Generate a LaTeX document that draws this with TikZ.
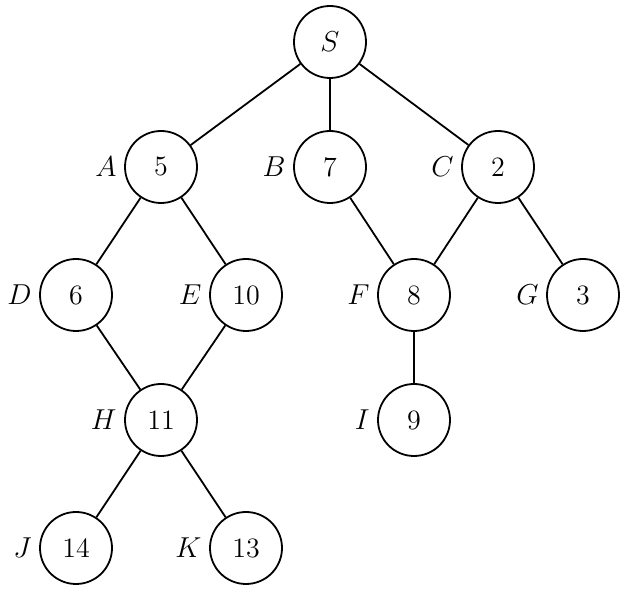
\documentclass[tikz,border=0pt]{standalone}
\begin{document}
\begin{tikzpicture}[x=0.5pt,y=-0.5pt,
  nd/.style={circle,draw,line width=0.9pt,minimum size=36pt,inner sep=0pt,font=\fontsize{14}{16}\selectfont},
  lb/.style={font=\fontsize{14}{16}\selectfont\itshape},
  every path/.style={line width=0.9pt}]
\useasboundingbox (0,0) rectangle (627,608);
\node[nd] (S) at (330,42) {$S$};
\node[nd,label={[lb]left:$A$}] (A) at (161,167) {5};
\node[nd,label={[lb]left:$B$}] (B) at (330,167) {7};
\node[nd,label={[lb]left:$C$}] (C) at (498,167) {2};
\node[nd,label={[lb]left:$D$}] (D) at (76,295) {6};
\node[nd,label={[lb]left:$E$}] (E) at (246,295) {10};
\node[nd,label={[lb]left:$F$}] (F) at (414,295) {8};
\node[nd,label={[lb]left:$G$}] (G) at (583,295) {3};
\node[nd,label={[lb]left:$H$}] (H) at (161,420) {11};
\node[nd,label={[lb]left:$I$}] (I) at (414,420) {9};
\node[nd,label={[lb]left:$J$}] (J) at (76,548) {14};
\node[nd,label={[lb]left:$K$}] (K) at (246,548) {13};
\draw (S)--(A); \draw (S)--(B); \draw (S)--(C);
\draw (A)--(D); \draw (A)--(E); \draw (B)--(F); \draw (C)--(F); \draw (C)--(G);
\draw (D)--(H); \draw (E)--(H); \draw (F)--(I);
\draw (H)--(J); \draw (H)--(K);
\end{tikzpicture}
\end{document}
